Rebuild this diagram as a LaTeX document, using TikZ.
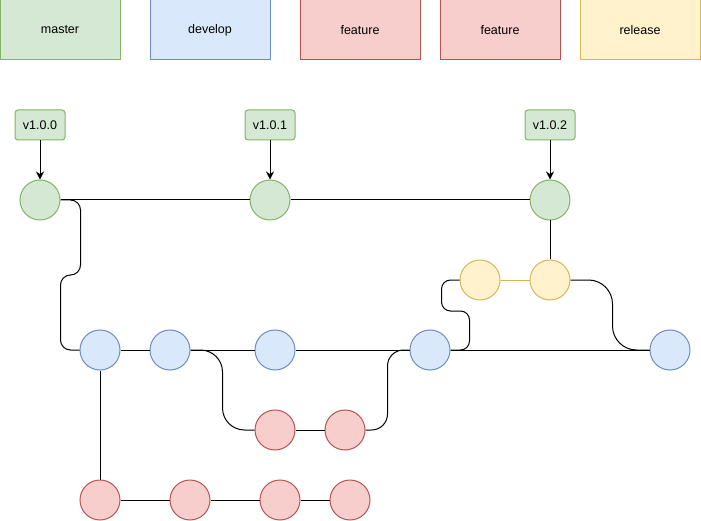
\documentclass[tikz,border=0pt]{standalone}
\usepackage{fontspec}
\setmainfont{Liberation Sans}
\usetikzlibrary{arrows.meta}
\definecolor{gfill}{HTML}{D5E8D4}\definecolor{gdraw}{HTML}{82B366}
\definecolor{bfill}{HTML}{DAE8FC}\definecolor{bdraw}{HTML}{6C8EBF}
\definecolor{rfill}{HTML}{F8CECC}\definecolor{rdraw}{HTML}{B85450}
\definecolor{yfill}{HTML}{FFF2CC}\definecolor{ydraw}{HTML}{D6B656}
\tikzset{
  legend/.style={draw, line width=1pt, minimum width=120pt, minimum height=60pt, inner sep=0pt, font=\fontsize{12.5}{14}\selectfont},
  tag/.style={draw=gdraw, fill=gfill, line width=1pt, rounded corners=3pt, minimum width=50pt, minimum height=30pt, inner sep=0pt, font=\fontsize{12.5}{14}\selectfont},
  commit/.style={circle, line width=1pt, minimum size=40pt, inner sep=0pt},
  gc/.style={commit, draw=gdraw, fill=gfill},
  bc/.style={commit, draw=bdraw, fill=bfill},
  rc/.style={commit, draw=rdraw, fill=rfill},
  yc/.style={commit, draw=ydraw, fill=yfill},
  link/.style={line width=1pt, black},
  tagarrow/.style={line width=1pt, -{Stealth[length=8pt,width=8pt]}}
}
\begin{document}
\begin{tikzpicture}[x=1pt,y=-1pt]
\useasboundingbox (0,0) rectangle (701,521);
% legend
\node[legend, draw=gdraw, fill=gfill] (lm) at (60,30) {master};
\node[legend, draw=bdraw, fill=bfill] (ld) at (210,30) {develop};
\node[legend, draw=rdraw, fill=rfill] (lf1) at (360,30) {feature};
\node[legend, draw=rdraw, fill=rfill] (lf2) at (500,30) {feature};
\node[legend, draw=ydraw, fill=yfill] (lr) at (640,30) {release};
% tags
\node[tag] (t0) at (40,125) {v1.0.0};
\node[tag] (t1) at (270,125) {v1.0.1};
\node[tag] (t2) at (550,125) {v1.0.2};
% master
\node[gc] (m1) at (40,200) {};
\node[gc] (m2) at (270,200) {};
\node[gc] (m3) at (550,200) {};
% release
\node[yc] (r1) at (480,280) {};
\node[yc] (r2) at (550,280) {};
% develop
\node[bc] (d1) at (100,350) {};
\node[bc] (d2) at (170,350) {};
\node[bc] (d3) at (275,350) {};
\node[bc] (d4) at (430,350) {};
\node[bc] (d5) at (670,350) {};
% feature middle
\node[rc] (f1) at (275,430) {};
\node[rc] (f2) at (345,430) {};
% feature bottom
\node[rc] (g1) at (100,500) {};
\node[rc] (g2) at (190,500) {};
\node[rc] (g3) at (280,500) {};
\node[rc] (g4) at (350,500) {};
% tag arrows
\draw[tagarrow] (t0) -- (m1);
\draw[tagarrow] (t1) -- (m2);
\draw[tagarrow] (t2) -- (m3);
% straight links
\draw[link] (m1) -- (m2);
\draw[link] (m2) -- (m3);
\draw[link] (d1) -- (d2);
\draw[link] (d2) -- (d3);
\draw[link] (d3) -- (d4);
\draw[link] (d4) -- (d5);
\draw[link] (f1) -- (f2);
\draw[link] (d1) -- (g1);
\draw[link] (g1) -- (g2);
\draw[link] (g2) -- (g3);
\draw[link] (g3) -- (g4);
\draw[link] (r2) -- (m3);
\draw[line width=1pt, draw=ydraw] (r1) -- (r2);
% curved links
\draw[link, rounded corners=10pt] (m1.east) -- ++(20,0) -- ++(0,75) -- ++(-20,0) |- (d1.west);
\draw[link, rounded corners=22pt] (d2.east) -- ++(32,0) |- (f1.west);
\draw[link, rounded corners=16pt] (f2.east) -- ++(22,0) |- (d4.west);
\draw[link, rounded corners=9pt] (d4.east) -- ++(19,0) -- ++(0,-39) -- ++(-28,0) |- (r1.west);
\draw[link, rounded corners=24pt] (r2.east) -- ++(42,0) |- (d5.west);
\end{tikzpicture}
\end{document}
